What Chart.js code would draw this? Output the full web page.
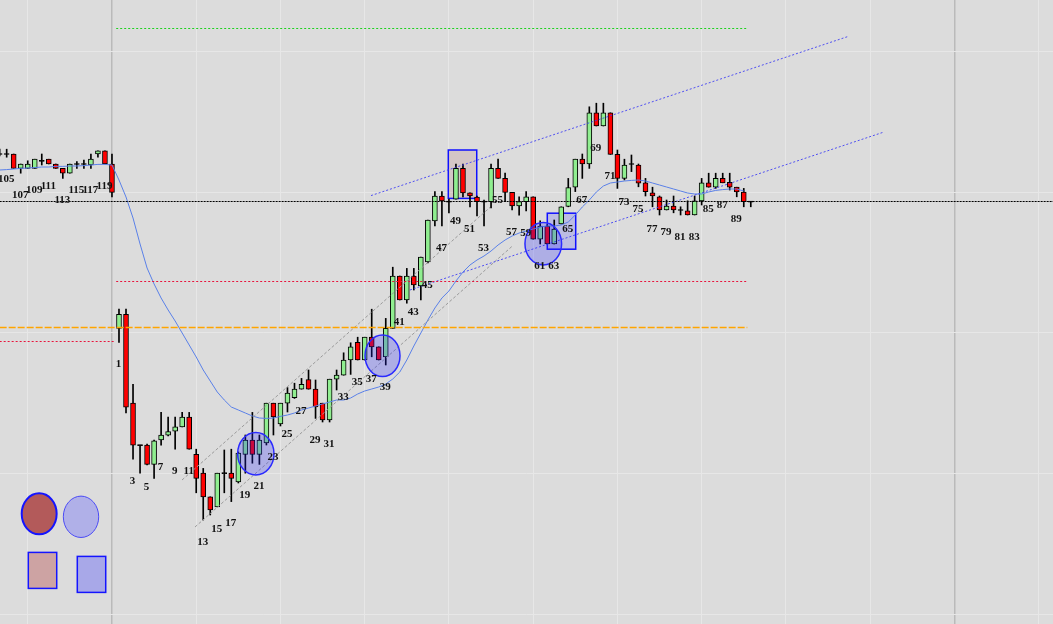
<!DOCTYPE html>
<html>
<head>
<meta charset="utf-8">
<script src="https://cdn.jsdelivr.net/npm/chart.js@4.4.0/dist/chart.umd.min.js"></script>
<style>
  html, body { margin: 0; padding: 0; background: #dcdcdc; }
  #wrap { position: relative; width: 1053px; height: 624px; }
</style>
</head>
<body>
<div id="wrap"><canvas id="chart"></canvas></div>
<script>
/* ---- previous session, bars 104..120 ---- */
const prevNums  = [104, 105, 106, 107, 108, 109, 110, 111, 112, 113, 114, 115, 116, 117, 118, 119, 120];
const prevOpen  = [2017.5, 2017.5, 2017.5, 2013.9, 2013.9, 2013.9, 2015.8, 2016.2, 2015, 2013.9, 2012.7, 2015, 2015, 2014.75, 2017.5, 2018.3, 2015];
const prevHigh  = [2018.7, 2018.7, 2017.5, 2015, 2015.8, 2016.2, 2017.5, 2016.2, 2015, 2013.9, 2015, 2015.6, 2016, 2017.5, 2018.3, 2018.3, 2017.5];
const prevLow   = [2017, 2016.7, 2013.9, 2012.7, 2013.9, 2013.9, 2014.75, 2015, 2013.9, 2011.4, 2012.7, 2013.9, 2013.9, 2013.9, 2016.7, 2015, 2006.8];
const prevClose = [2017.5, 2017.5, 2013.9, 2015, 2015, 2016.2, 2015.8, 2015, 2013.9, 2012.7, 2015, 2015, 2015, 2016.2, 2018.3, 2015, 2007.9];
const prevMa    = [2013.5, 2013.6, 2013.75, 2013.9, 2014, 2014.1, 2014.25, 2014.25, 2014.4, 2014.4, 2014.5, 2014.5, 2014.6, 2014.75, 2014.9, 2014.9, 2014.75];

/* ---- current session, bars 1..91 ---- */
const open = [
  1973.9, 1977.4, 1955.2, 1944.7, 1944.7, 1939.9, 1946, 1947.2, 1948.2, 1949.3,
  1951.7, 1942.4, 1937.7, 1931.8, 1929.3, 1937.7, 1937.7, 1935.5, 1942.4, 1946,
  1942.4, 1945.25, 1955.2, 1950, 1955.2, 1956.6, 1958.7, 1961.1, 1958.7, 1955.2,
  1951, 1961.2, 1962.2, 1966, 1970.4, 1966, 1971.7, 1969.3, 1966.8, 1973.9,
  1987, 1981, 1987, 1984.5, 1990.5, 2000.8, 2007, 2005.6, 2006.2, 2013.9,
  2007.8, 2006.7, 2005.6, 2005.6, 2013.9, 2011.4, 2007.9, 2004.5, 2005.6, 2006.8,
  1996.2, 1999.5, 1995, 2000, 2004.4, 2009.2, 2016.2, 2015, 2027.8, 2024.5,
  2027.8, 2017.4, 2011.4, 2015, 2014.75, 2010.3, 2007.8, 2006.8, 2003.5, 2004.5,
  2003.5, 2003.3, 2002.25, 2005.8, 2010.3, 2009.2, 2011.4, 2010.4, 2009.2, 2008,
  2005.6];
const high = [
  1978.7, 1978.7, 1959.9, 1944.7, 1945, 1946, 1952.9, 1951.7, 1951.7, 1952.9,
  1952.9, 1943.7, 1938.9, 1931.8, 1937.7, 1943.5, 1943.7, 1943, 1947.25, 1952.9,
  1947.25, 1955.2, 1955.2, 1955.2, 1959.1, 1960.2, 1961.4, 1963.5, 1961, 1955.2,
  1961.2, 1963.5, 1967.8, 1970.3, 1971.7, 1971.7, 1978.7, 1969.3, 1976.4, 1989.2,
  1987, 1988.9, 1988.9, 1991.7, 2001, 2008.1, 2008.1, 2006.25, 2015, 2015,
  2007.8, 2007, 2006, 2015, 2016.25, 2012.7, 2007.9, 2006.8, 2008.1, 2006.8,
  2000.8, 1999.8, 2001, 2004.3, 2011.4, 2016.2, 2017.5, 2029.3, 2030.2, 2030.2,
  2027.8, 2018.5, 2016.2, 2017.25, 2015, 2011.4, 2009.2, 2007, 2006, 2007,
  2004.3, 2005.8, 2007, 2011.4, 2012.7, 2012.7, 2012.7, 2012.7, 2009.2, 2008.9,
  2005.6];
const low = [
  1970.4, 1952.8, 1941.2, 1937.7, 1939.75, 1936.4, 1944.7, 1947, 1943.7, 1949.3,
  1943.7, 1932.8, 1926, 1927.25, 1929.3, 1932.8, 1930.6, 1935.25, 1937.7, 1940.2,
  1939.9, 1944.75, 1947.25, 1949.5, 1953, 1956.4, 1958.7, 1958.7, 1951.4, 1950.5,
  1950.5, 1958.5, 1962.2, 1962.4, 1966, 1966, 1966.8, 1966, 1964.75, 1973.9,
  1981, 1980.2, 1983.5, 1981, 1990.3, 1999.5, 1999.5, 2002.75, 2006.2, 2006.8,
  2004.3, 2002, 1999.5, 2004, 2011.4, 2005.6, 2003.5, 2002.2, 2003.25, 1996.2,
  1995, 1995, 1995, 2000, 2004.3, 2008.1, 2011.4, 2013.9, 2024.5, 2024.5,
  2017.4, 2008.9, 2011, 2013.1, 2009.3, 2007, 2004.3, 2002.25, 2003.5, 2002.8,
  2002.25, 2002.25, 2002.25, 2004.75, 2009.2, 2008.9, 2010.3, 2008.5, 2006.8, 2004.3,
  2004.3];
const close = [
  1977.4, 1954.2, 1944.7, 1944.7, 1939.9, 1945.8, 1947.2, 1948.1, 1949.3, 1951.7,
  1943.7, 1936.4, 1931.8, 1928.5, 1937.7, 1937.7, 1936.4, 1942.75, 1946, 1942.4,
  1946, 1955.2, 1951.8, 1955.2, 1957.7, 1958.7, 1959.9, 1958.7, 1954.3, 1951,
  1961.2, 1962.2, 1966, 1969.3, 1966, 1971.7, 1969.3, 1966, 1973.9, 1987,
  1981, 1987, 1984.75, 1991.7, 2001, 2007, 2005.8, 2005.6, 2013.9, 2007.8,
  2007, 2005.6, 2005.6, 2013.9, 2011.4, 2007.9, 2004.5, 2005.6, 2006.8, 1996.2,
  1999.5, 1995, 1998.7, 2004.3, 2009.1, 2016.2, 2015, 2027.8, 2024.5, 2027.8,
  2017.4, 2011.4, 2014.75, 2015, 2010.2, 2008.1, 2007, 2003.5, 2004.5, 2003.5,
  2003.5, 2002.25, 2005.8, 2010.3, 2009.2, 2011.4, 2010.3, 2009.2, 2008, 2005.6,
  2005.6];
const ma = [
  2011, 2006.75, 2001.5, 1995, 1989, 1985, 1981.5, 1978.5, 1975.75, 1972.75,
  1969.75, 1966.75, 1963.5, 1960.75, 1958, 1956, 1954.25, 1953.5, 1952.75, 1952,
  1951.5, 1951.4, 1951.5, 1951.9, 1952.25, 1952.75, 1953.5, 1954, 1954.5, 1955,
  1955.5, 1956, 1956, 1956.5, 1957.5, 1958.25, 1958.75, 1959.25, 1960, 1961.25,
  1963, 1966, 1969.5, 1972.75, 1976, 1979, 1981.5, 1983.25, 1985.75, 1988,
  1989.75, 1991, 1992, 1993.25, 1994.75, 1996, 1997, 1997.75, 1998.25, 1998.75,
  1999.25, 1999.5, 1999.5, 1999.75, 2000.5, 2002.25, 2004.25, 2006, 2008, 2009.5,
  2010.25, 2010.5, 2010.75, 2010.9, 2011, 2010.75, 2010.25, 2009.75, 2009.25, 2008.75,
  2008.25, 2007.75, 2007.5, 2007.5, 2008, 2008.4, 2008.6, 2008.75, 2008.75, 2008.25];

/* ---- horizontal levels (price, bar-slot span) ---- */
const levelPrice = [2005.625, 2048.875, 1985.625, 1974.125, 1970.625];
const levelFrom  = [-16, 0.6, 0.6, -16, -16];
const levelTo    = [134.1, 90.5, 90.5, 90.5, 0.4];

/* ---- trend lines: channel (blue dotted) and grey channel ---- */
const trendX1 = [36.9, 42.45, 9.98, 11.83];
const trendY1 = [2007.1, 1983.5, 1936, 1924.25];
const trendX2 = [104.89, 109.98, 53.85, 56.98];
const trendY2 = [2046.9, 2023, 2004.15, 1994.4];

/* ---- marked areas ---- */
const boxX1 = [47.91, 62.01];
const boxX2 = [51.96, 66.06];
const boxTop = [2018.5, 2002.7];
const boxBottom = [2006.4, 1993.7];
const ringX = [20.49, 38.54, 61.44];
const ringY = [1942.55, 1967.05, 1995.05];
const ringRX = [2.59, 2.49, 2.61];
const ringRY = [5.3, 5.2, 5.3];

/* ---- template swatches in the lower-left corner ---- */
const swatchEllX = [-10.37, -4.41];
const swatchEllY = [1927.55, 1926.8];
const swatchEllRX = [2.49, 2.52];
const swatchEllRY = [5.125, 5.17];
const swatchRectX1 = [-11.92, -4.94];
const swatchRectX2 = [-7.87, -0.89];
const swatchRectTop = [1917.9, 1916.9];
const swatchRectBottom = [1908.9, 1907.9];

/* ---- grid ---- */
const xGrid = [-12, 0, 12, 24, 36, 48, 60, 72, 84, 96, 108, 120, 132];
const yGrid = [2043.25, 2007.9, 1972.9, 1937.7, 1902.5];

/* ---------------------------------------------------------------- */

const nums  = [...prevNums, ...open.map((_, i) => i + 1)];
const slots = [...prevNums.map(n => n - 120), ...open.map((_, i) => i + 1)];
const O = [...prevOpen, ...open];
const H = [...prevHigh, ...high];
const L = [...prevLow, ...low];
const C = [...prevClose, ...close];
const M = [...prevMa, ...ma];
const lastOfSession = [prevNums.length - 1, nums.length - 1];

const isDoji = i => Math.abs(O[i] - C[i]) < 0.05;

const wickData = slots.map((s, i) => ({ x: s, y: [L[i], H[i]] }));
const bodyData = slots.map((s, i) => ({
  x: s,
  y: isDoji(i) ? [O[i] - 0.13, O[i] + 0.13] : [O[i], C[i]]
}));
const bodyColors = slots.map((s, i) => isDoji(i) ? '#000' : (C[i] > O[i] ? '#90ee90' : '#ff0000'));
const maData = slots.slice(0, M.length).map((s, i) => ({ x: s, y: M[i] }));

const levelColor = ['#000000', '#1ed21e', '#e8143c', '#ffa500', '#e8143c'];
const levelDash = [[2, 1], [2, 2], [2, 2], [7, 2], [2, 2]];
const levelWidth = [1, 1, 1, 1.5, 1];
const trendColor = ['rgba(55,55,245,0.85)', 'rgba(55,55,245,0.85)', '#9a9a9a', '#9a9a9a'];
const trendDash = [[2, 2], [2, 2], [3, 2], [3, 2]];

const levelSets = levelPrice.map((p, i) => ({
  type: 'line',
  data: [{ x: levelFrom[i], y: p }, { x: levelTo[i], y: p }],
  borderColor: levelColor[i], borderDash: levelDash[i], borderWidth: levelWidth[i],
  pointRadius: 0, order: 0
}));
const trendSets = trendX1.map((x, i) => ({
  type: 'line',
  data: [{ x: x, y: trendY1[i] }, { x: trendX2[i], y: trendY2[i] }],
  borderColor: trendColor[i], borderDash: trendDash[i], borderWidth: 1,
  pointRadius: 0, order: 0
}));

// boxes behind the candles, rings, swatches and bar numbers on top
const overlay = {
  id: 'overlay',
  beforeDatasetsDraw(chart) {
    const { ctx, scales: { x, y } } = chart;
    const fills = ['rgba(185,125,125,0.22)', 'rgba(60,60,255,0.2)'];
    ctx.save();
    boxX1.forEach((bx, i) => {
      const l = x.getPixelForValue(bx), r = x.getPixelForValue(boxX2[i]);
      const t = y.getPixelForValue(boxTop[i]), b = y.getPixelForValue(boxBottom[i]);
      ctx.fillStyle = fills[i];
      ctx.fillRect(l, t, r - l, b - t);
      ctx.strokeStyle = '#1010ff';
      ctx.lineWidth = 1.5;
      ctx.strokeRect(l, t, r - l, b - t);
    });
    ctx.restore();
  },
  afterDatasetsDraw(chart) {
    const { ctx, scales: { x, y } } = chart;
    const ell = (cx, cy, rx, ry) => {
      const px = x.getPixelForValue(cx), py = y.getPixelForValue(cy);
      const rpx = Math.abs(x.getPixelForValue(cx + rx) - px);
      const rpy = Math.abs(y.getPixelForValue(cy + ry) - py);
      ctx.beginPath();
      ctx.ellipse(px, py, rpx, rpy, 0, 0, Math.PI * 2);
    };
    ctx.save();
    ringX.forEach((cx, i) => {
      ell(cx, ringY[i], ringRX[i], ringRY[i]);
      ctx.fillStyle = 'rgba(35,35,255,0.25)';
      ctx.fill();
      ctx.strokeStyle = '#2a2aff';
      ctx.lineWidth = 1.5;
      ctx.stroke();
    });

    const ellFill = ['#b35a5a', '#b0b0e8'];
    const ellStroke = ['#1414ff', '#4a4af5'];
    const ellWidth = [2, 1];
    swatchEllX.forEach((cx, i) => {
      ell(cx, swatchEllY[i], swatchEllRX[i], swatchEllRY[i]);
      ctx.fillStyle = ellFill[i];
      ctx.fill();
      ctx.strokeStyle = ellStroke[i];
      ctx.lineWidth = ellWidth[i];
      ctx.stroke();
    });
    const rectFill = ['#cda3a3', '#a8a8e8'];
    swatchRectX1.forEach((rx, i) => {
      const l = x.getPixelForValue(rx), r = x.getPixelForValue(swatchRectX2[i]);
      const t = y.getPixelForValue(swatchRectTop[i]), b = y.getPixelForValue(swatchRectBottom[i]);
      ctx.fillStyle = rectFill[i];
      ctx.fillRect(l, t, r - l, b - t);
      ctx.strokeStyle = '#1414ff';
      ctx.lineWidth = 1.5;
      ctx.strokeRect(l, t, r - l, b - t);
    });

    // bar numbers under every other bar, centred on the bar
    ctx.font = 'bold 11px "Liberation Serif", "Times New Roman", serif';
    ctx.fillStyle = '#111';
    ctx.textAlign = 'center';
    ctx.textBaseline = 'middle';
    nums.forEach((n, i) => {
      if (n % 2 === 0 || lastOfSession.includes(i)) return;
      ctx.fillText(String(n), x.getPixelForValue(slots[i]) - 0.5, y.getPixelForValue(L[i]) + 22);
    });
    ctx.restore();
  }
};

new Chart(document.getElementById('chart'), {
  type: 'bar',
  data: {
    datasets: [
      ...levelSets,
      ...trendSets,
      {
        type: 'line', label: 'MA', data: maData,
        borderColor: '#5a80e8', borderWidth: 1, pointRadius: 0, tension: 0, order: 0
      },
      {
        label: 'Body', data: bodyData,
        backgroundColor: bodyColors, borderColor: '#000', borderWidth: 1, borderSkipped: false,
        barThickness: 5, grouped: false, order: 1
      },
      {
        label: 'Wick', data: wickData,
        backgroundColor: '#000', borderWidth: 0, barThickness: 1, grouped: false, order: 2
      }
    ]
  },
  options: {
    responsive: true,
    maintainAspectRatio: false,
    animation: false,
    layout: { padding: 0 },
    plugins: { legend: { display: false }, tooltip: { enabled: false } },
    scales: {
      x: {
        type: 'linear', min: -15.95, max: 134.05, offset: false,
        afterBuildTicks: axis => { axis.ticks = xGrid.map(v => ({ value: v })); },
        ticks: { display: false },
        border: { display: false },
        grid: {
          offset: false,
          drawTicks: false,
          color: c => (c.tick && (c.tick.value === 0 || c.tick.value === 120)) ? '#bababa' : '#e7e7e7',
          lineWidth: c => (c.tick && (c.tick.value === 0 || c.tick.value === 120)) ? 1.5 : 1
        }
      },
      y: {
        type: 'linear', min: 1900, max: 2056,
        afterBuildTicks: axis => { axis.ticks = yGrid.map(v => ({ value: v })); },
        ticks: { display: false },
        border: { display: false },
        grid: { drawTicks: false, color: '#e7e7e7' }
      }
    }
  },
  plugins: [overlay]
});
</script>
</body>
</html>
